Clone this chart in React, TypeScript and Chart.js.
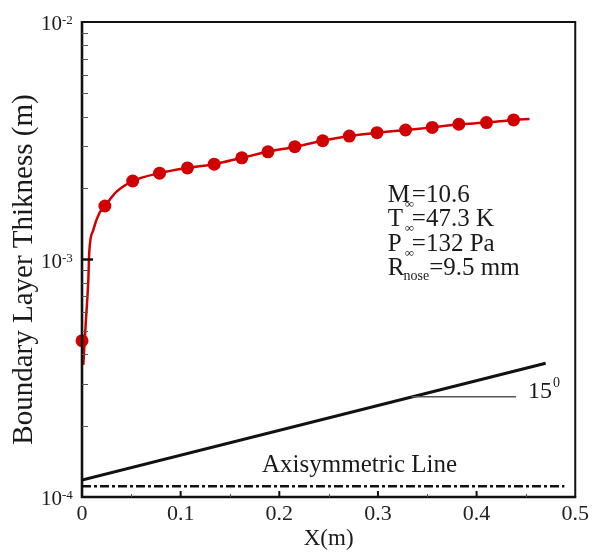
import React, { useEffect, useRef } from "react";
import { Chart, registerables } from "chart.js";

Chart.register(...registerables);

// Boundary-layer thickness samples (markers)
const markerX = [0, 0.0232, 0.0514, 0.0786, 0.1069, 0.134, 0.162, 0.1885, 0.2157, 0.244, 0.271, 0.299, 0.328, 0.355, 0.382, 0.41, 0.4375];
const markerY = [4.55e-4, 1.68e-3, 2.14e-3, 2.31e-3, 2.43e-3, 2.52e-3, 2.68e-3, 2.84e-3, 2.985e-3, 3.163e-3, 3.31e-3, 3.42e-3, 3.51e-3, 3.6e-3, 3.71e-3, 3.77e-3, 3.87e-3];

// Continuous solution curve
const curveX = [0.0013, 0.004, 0.0064, 0.0074, 0.0114, 0.0175, 0.0232, 0.035, 0.0514, 0.0786, 0.1069, 0.134, 0.162, 0.1885, 0.2157, 0.244, 0.271, 0.299, 0.328, 0.355, 0.382, 0.41, 0.4375, 0.4536];
const curveY = [3.6e-4, 5.56e-4, 8.2e-4, 1.08e-3, 1.33e-3, 1.565e-3, 1.68e-3, 1.93e-3, 2.14e-3, 2.31e-3, 2.43e-3, 2.52e-3, 2.68e-3, 2.84e-3, 2.985e-3, 3.163e-3, 3.31e-3, 3.42e-3, 3.51e-3, 3.6e-3, 3.71e-3, 3.77e-3, 3.87e-3, 3.9e-3];

// 15 degree cone line
const coneX = [0, 0.47];
const coneY = [1.18e-4, 3.66e-4];

// Axisymmetric line
const axisX = [0, 0.489];
const axisY = [1.11e-4, 1.11e-4];

const xTicks = [0, 0.1, 0.2, 0.3, 0.4, 0.5];
const xMinorTicks = [0.05, 0.15, 0.25, 0.35, 0.45];
const yExponents = [-2, -3, -4];
const yMinorMultipliers = [2, 3, 4, 5, 6, 7, 8, 9];

const conditionMain = ["M", "T", "P", "R"];
const conditionSub = ["∞", "∞", "∞", "nose"];
const conditionRest = ["=10.6", "=47.3 K", "=132 Pa", "=9.5 mm"];

const SERIF = "'Liberation Serif', 'Times New Roman', serif";
const RED = "#d00000";

const zip = (xs: number[], ys: number[]) => xs.map((x, i) => ({ x, y: ys[i] }));

const overlay = {
  id: "overlay",
  afterDraw(chart: any) {
    const ctx = chart.ctx as CanvasRenderingContext2D;
    const { left, right, top, bottom } = chart.chartArea;
    const xs = chart.scales.x;
    const ys = chart.scales.y;
    ctx.save();
    ctx.strokeStyle = "#111";
    ctx.fillStyle = "#1a1a1a";

    // frame
    ctx.lineWidth = 2;
    ctx.beginPath();
    ctx.moveTo(left, top);
    ctx.lineTo(right, top);
    ctx.lineTo(right, bottom);
    ctx.stroke();
    ctx.lineWidth = 2.6;
    ctx.beginPath();
    ctx.moveTo(left, top - 1);
    ctx.lineTo(left, bottom);
    ctx.lineTo(right + 1, bottom);
    ctx.stroke();

    // y minor ticks
    ctx.lineWidth = 1;
    ctx.strokeStyle = "#555";
    for (const e of [-4, -3]) {
      for (const m of yMinorMultipliers) {
        const py = Math.round(ys.getPixelForValue(m * Math.pow(10, e))) + 0.5;
        ctx.beginPath();
        ctx.moveTo(left, py);
        ctx.lineTo(left + 6, py);
        ctx.stroke();
      }
    }
    // y major tick
    ctx.strokeStyle = "#111";
    ctx.lineWidth = 2.5;
    const p3 = ys.getPixelForValue(1e-3);
    ctx.beginPath();
    ctx.moveTo(left, p3);
    ctx.lineTo(left + 11, p3);
    ctx.stroke();

    // x ticks
    ctx.lineWidth = 1;
    ctx.strokeStyle = "#555";
    for (const v of xMinorTicks) {
      const px = Math.round(xs.getPixelForValue(v)) + 0.5;
      ctx.beginPath();
      ctx.moveTo(px, bottom);
      ctx.lineTo(px, bottom - 3);
      ctx.stroke();
    }
    ctx.lineWidth = 2;
    ctx.strokeStyle = "#111";
    for (const v of xTicks.slice(1, -1)) {
      const px = xs.getPixelForValue(v);
      ctx.beginPath();
      ctx.moveTo(px, bottom);
      ctx.lineTo(px, bottom - 6);
      ctx.stroke();
    }

    // y tick labels 10^n
    for (const e of yExponents) {
      const py = ys.getPixelForValue(Math.pow(10, e));
      ctx.font = `21px ${SERIF}`;
      ctx.textAlign = "right";
      ctx.textBaseline = "alphabetic";
      ctx.fillText("10", left - 20, py + 8);
      ctx.font = `13px ${SERIF}`;
      ctx.textAlign = "left";
      ctx.fillText(String(e), left - 20, py + 2);
    }

    // axis titles
    ctx.font = `23px ${SERIF}`;
    ctx.textAlign = "center";
    ctx.textBaseline = "alphabetic";
    ctx.fillText("X(m)", (left + right) / 2, bottom + 48);

    ctx.save();
    ctx.translate(32, (top + bottom) / 2 + 10);
    ctx.rotate(-Math.PI / 2);
    ctx.font = `29px ${SERIF}`;
    ctx.textAlign = "center";
    ctx.fillText("Boundary Layer Thikness (m)", 0, 0);
    ctx.restore();

    // condition block
    const bx = xs.getPixelForValue(0.31);
    const by = ys.getPixelForValue(1.75e-3);
    ctx.textAlign = "left";
    for (let i = 0; i < conditionMain.length; i++) {
      const rowY = by + i * 24.5;
      ctx.font = `25px ${SERIF}`;
      ctx.fillText(conditionMain[i], bx, rowY);
      const mainW = ctx.measureText(conditionMain[i]).width;
      if (conditionSub[i] === "∞") {
        ctx.font = `13px ${SERIF}`;
        ctx.fillText(conditionSub[i], bx + 17, rowY + 6);
        ctx.font = `25px ${SERIF}`;
        ctx.fillText(conditionRest[i], bx + 24, rowY);
      } else {
        ctx.font = `14px ${SERIF}`;
        ctx.fillText(conditionSub[i], bx + mainW - 1, rowY + 5);
        const subW = ctx.measureText(conditionSub[i]).width;
        ctx.font = `25px ${SERIF}`;
        ctx.fillText(conditionRest[i], bx + mainW - 1 + subW, rowY);
      }
    }

    // 15 degree annotation
    const ly = ys.getPixelForValue(2.64e-4);
    ctx.strokeStyle = "#555";
    ctx.lineWidth = 1.5;
    ctx.beginPath();
    ctx.moveTo(xs.getPixelForValue(0.334), ly);
    ctx.lineTo(xs.getPixelForValue(0.44), ly);
    ctx.stroke();
    ctx.font = `24px ${SERIF}`;
    const tx = xs.getPixelForValue(0.452);
    ctx.fillText("15", tx, ly + 1);
    const w15 = ctx.measureText("15").width;
    ctx.font = `14px ${SERIF}`;
    ctx.fillText("0", tx + w15 + 1, ly - 10);

    // axisymmetric label
    ctx.font = `25px ${SERIF}`;
    ctx.fillText("Axisymmetric Line", xs.getPixelForValue(0.1825), bottom - 25);

    ctx.restore();
  },
};

export default function App() {
  const ref = useRef<HTMLCanvasElement | null>(null);
  useEffect(() => {
    if (!ref.current) return;
    const chart = new Chart(ref.current, {
      type: "line",
      data: {
        datasets: [
          {
            label: "Axisymmetric",
            data: zip(axisX, axisY),
            borderColor: "#111",
            borderWidth: 2.4,
            borderDash: [9, 3, 3, 3],
            pointRadius: 0,
            fill: false,
          },
          {
            label: "15 deg",
            data: zip(coneX, coneY),
            borderColor: "#111",
            borderWidth: 3,
            pointRadius: 0,
            fill: false,
          },
          {
            label: "curve",
            data: zip(curveX, curveY),
            borderColor: RED,
            borderWidth: 2.5,
            pointRadius: 0,
            cubicInterpolationMode: "monotone",
            fill: false,
          },
          {
            label: "markers",
            data: zip(markerX, markerY),
            showLine: false,
            pointRadius: 6.5,
            pointBackgroundColor: RED,
            pointBorderColor: RED,
            pointBorderWidth: 0,
            clip: false,
          } as any,
        ],
      },
      options: {
        responsive: false,
        animation: false,
        devicePixelRatio: 1,
        layout: { padding: { top: 22, right: 15, left: 0, bottom: 0 } },
        plugins: { legend: { display: false }, tooltip: { enabled: false } },
        scales: {
          x: {
            type: "linear",
            min: 0,
            max: 0.5,
            afterFit: (s: any) => {
              s.height = 61;
            },
            afterBuildTicks: (s: any) => {
              s.ticks = xTicks.map((v) => ({ value: v }));
            },
            grid: { display: false, drawTicks: false },
            border: { display: false },
            ticks: {
              padding: 4,
              color: "#222",
              font: { family: SERIF, size: 22 },
              callback: (v: any) => (Number(v) === 0 ? "0" : Number(v).toFixed(1)),
            },
          },
          y: {
            type: "logarithmic",
            min: 1e-4,
            max: 1e-2,
            afterFit: (s: any) => {
              s.width = 82;
            },
            grid: { display: false, drawTicks: false },
            border: { display: false },
            ticks: { display: false },
          },
        },
      } as any,
      plugins: [overlay],
    });
    return () => chart.destroy();
  }, []);
  return (
    <div style={{ position: "absolute", left: 0, top: 0, width: 593, height: 558, background: "#fff" }}>
      <canvas ref={ref} width={593} height={558} style={{ display: "block" }} />
    </div>
  );
}
